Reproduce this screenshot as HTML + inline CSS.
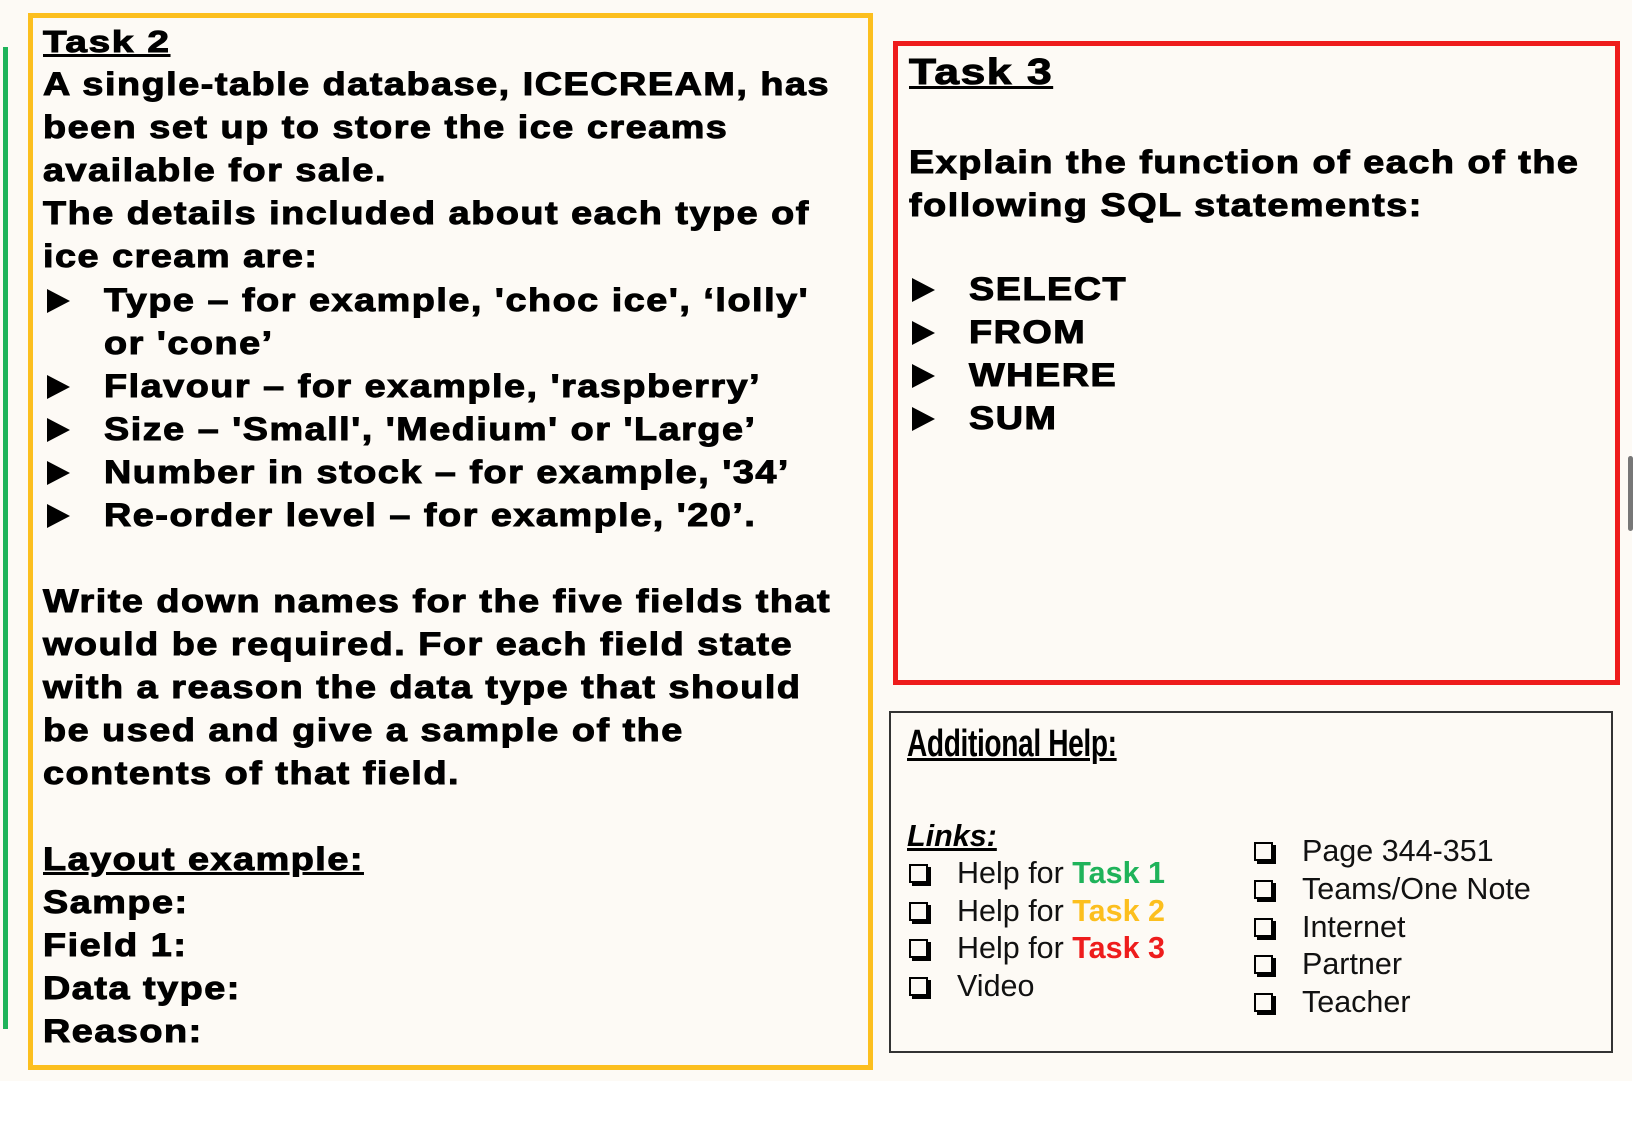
<!DOCTYPE html>
<html><head><meta charset="utf-8"><style>
html,body{margin:0;padding:0;width:1638px;height:1142px;background:#fff;overflow:hidden;position:relative}
.bg{position:absolute;left:0;top:0;width:1632px;height:1081px;background:#fdfaf5}
.box{position:absolute;box-sizing:border-box}
.t{position:absolute;font-family:"Liberation Sans",Arial,sans-serif;font-weight:bold;color:#000;white-space:nowrap;font-size:32px;line-height:43px;letter-spacing:1.3px;-webkit-text-stroke:1px #000;transform:scaleX(1.18);transform-origin:left center}
.tri{position:absolute;width:0;height:0;border-top:12px solid transparent;border-bottom:12px solid transparent;border-left:23px solid #000}
.r{position:absolute;font-family:"Liberation Sans",Arial,sans-serif;color:#111;white-space:nowrap;font-size:30.5px;line-height:36px}
.cb{position:absolute;width:15px;height:15px;border:2px solid #000;box-shadow:3px 3px 0 #000;background:#fdfaf5}
</style></head><body>
<div class="bg"></div>
<div class="box" style="left:3px;top:47px;width:5px;height:982px;background:#1fb35a"></div>
<div class="box" style="left:28px;top:13px;width:845px;height:1057px;border:5px solid #fcbf1e"></div>
<div class="box" style="left:893px;top:41px;width:727px;height:644px;border:5px solid #ee1c1c"></div>
<div class="box" style="left:889px;top:711px;width:724px;height:342px;border:2px solid #333"></div>
<div class="box" style="left:1628px;top:456px;width:5px;height:75px;background:#777;border-radius:3px"></div>

<div class="t" style="left:43px;top:20px;font-size:31px;text-decoration:underline;transform:scaleX(1.25)">Task 2</div>
<div class="t" style="left:43px;top:63px">A single-table database, ICECREAM, has</div>
<div class="t" style="left:43px;top:106px">been set up to store the ice creams</div>
<div class="t" style="left:43px;top:149px">available for sale.</div>
<div class="t" style="left:43px;top:192px">The details included about each type of</div>
<div class="t" style="left:43px;top:235px">ice cream are:</div>
<div class="tri" style="left:47px;top:289px"></div>
<div class="t" style="left:104px;top:279px">Type – for example, 'choc ice', ‘lolly'</div>
<div class="t" style="left:104px;top:322px">or 'cone’</div>
<div class="tri" style="left:47px;top:375px"></div>
<div class="t" style="left:104px;top:365px">Flavour – for example, 'raspberry’</div>
<div class="tri" style="left:47px;top:418px"></div>
<div class="t" style="left:104px;top:408px">Size – 'Small', 'Medium' or 'Large’</div>
<div class="tri" style="left:47px;top:461px"></div>
<div class="t" style="left:104px;top:451px">Number in stock – for example, '34’</div>
<div class="tri" style="left:47px;top:504px"></div>
<div class="t" style="left:104px;top:494px">Re-order level – for example, '20’.</div>
<div class="t" style="left:43px;top:580px">Write down names for the five fields that</div>
<div class="t" style="left:43px;top:623px">would be required. For each field state</div>
<div class="t" style="left:43px;top:666px">with a reason the data type that should</div>
<div class="t" style="left:43px;top:709px">be used and give a sample of the</div>
<div class="t" style="left:43px;top:752px">contents of that field.</div>
<div class="t" style="left:43px;top:838px;text-decoration:underline">Layout example:</div>
<div class="t" style="left:43px;top:881px">Sampe:</div>
<div class="t" style="left:43px;top:924px">Field 1:</div>
<div class="t" style="left:43px;top:967px">Data type:</div>
<div class="t" style="left:43px;top:1010px">Reason:</div>

<div class="t" style="left:909px;top:50px;font-size:36px;text-decoration:underline;transform:scaleX(1.23)">Task 3</div>
<div class="t" style="left:909px;top:141px">Explain the function of each of the</div>
<div class="t" style="left:909px;top:184px">following SQL statements:</div>
<div class="tri" style="left:912px;top:278px"></div>
<div class="t" style="left:969px;top:268px">SELECT</div>
<div class="tri" style="left:912px;top:321px"></div>
<div class="t" style="left:969px;top:311px">FROM</div>
<div class="tri" style="left:912px;top:364px"></div>
<div class="t" style="left:969px;top:354px">WHERE</div>
<div class="tri" style="left:912px;top:407px"></div>
<div class="t" style="left:969px;top:397px">SUM</div>

<div class="r" style="left:907px;top:726px;font-family:'Liberation Sans Narrow','Liberation Sans',sans-serif;font-weight:bold;font-size:38px;letter-spacing:-0.5px;text-decoration:underline;color:#000;transform:scaleX(0.74);transform-origin:left">Additional Help:</div>
<div class="r" style="left:907px;top:818px;font-weight:bold;font-style:italic;text-decoration:underline;color:#000">Links:</div>
<div class="cb" style="left:909px;top:864px"></div><div class="r" style="left:957px;top:855px">Help for <b style="color:#1fb35a">Task 1</b></div>
<div class="cb" style="left:909px;top:902px"></div><div class="r" style="left:957px;top:893px">Help for <b style="color:#fcbf1e">Task 2</b></div>
<div class="cb" style="left:909px;top:939px"></div><div class="r" style="left:957px;top:930px">Help for <b style="color:#ee1c1c">Task 3</b></div>
<div class="cb" style="left:909px;top:977px"></div><div class="r" style="left:957px;top:968px">Video</div>
<div class="cb" style="left:1254px;top:842px"></div><div class="r" style="left:1302px;top:833px">Page 344-351</div>
<div class="cb" style="left:1254px;top:880px"></div><div class="r" style="left:1302px;top:871px">Teams/One Note</div>
<div class="cb" style="left:1254px;top:918px"></div><div class="r" style="left:1302px;top:909px">Internet</div>
<div class="cb" style="left:1254px;top:955px"></div><div class="r" style="left:1302px;top:946px">Partner</div>
<div class="cb" style="left:1254px;top:993px"></div><div class="r" style="left:1302px;top:984px">Teacher</div>
</body></html>
